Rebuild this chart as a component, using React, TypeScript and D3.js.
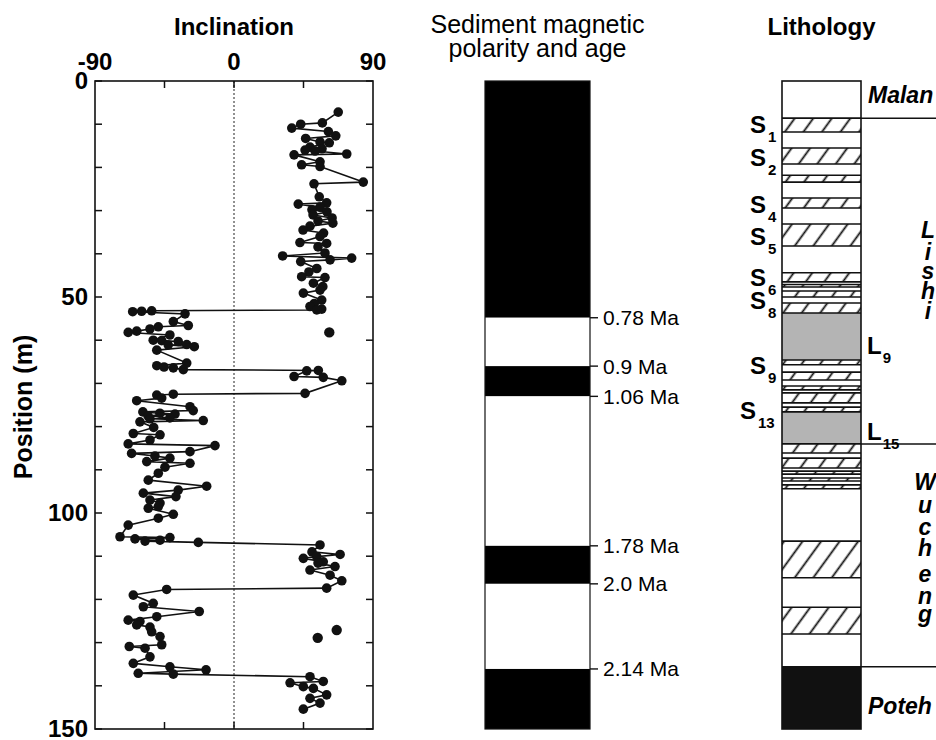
import * as d3 from "d3";
import React from "react";

// inclination record, ordered by depth (m)
const positionM = [
  7.2, 9.7, 10.0, 10.9, 11.7, 12.7, 13.3, 14.1, 14.3, 15.3, 15.7, 16.0, 16.2, 16.9, 17.1, 18.7, 19.4, 19.8,
  23.4, 23.8, 26.8, 28.2, 28.5, 29.2, 29.8, 30.3, 31.0, 31.7, 32.4, 32.9, 33.6, 34.5, 35.2, 36.0, 37.4, 37.6, 38.4,
  39.8, 40.5, 41.0, 41.4, 41.8, 43.4, 44.2, 45.3, 45.5, 46.8, 47.6, 48.4, 49.1, 50.7, 51.5, 52.2, 52.8, 53.0,
  53.2, 53.3, 53.4, 53.9, 55.7, 56.6, 56.9, 57.4, 57.9, 58.2, 58.8, 60.0, 60.1, 60.3, 61.0, 61.1, 61.5,
  62.3, 65.3, 65.9, 66.2, 66.4, 66.8,
  67.0, 67.1, 68.4, 68.6, 69.4, 72.3,
  72.5, 72.7, 73.4, 74.0, 75.4, 76.3, 76.6, 76.9, 77.1, 77.5, 78.0, 78.2, 78.6, 78.9, 80.2, 81.6, 81.9,
  83.1, 84.0, 84.4, 85.8, 86.2, 86.8, 87.3, 88.1, 88.5, 89.4, 90.8, 92.4, 93.8, 94.7, 95.4, 96.2, 97.0,
  97.7, 98.5, 98.9, 100.3, 101.2, 102.8, 105.5, 105.7, 106.0, 106.3, 106.5, 106.8,
  107.4, 109.0, 109.6, 110.1, 110.5, 111.3, 111.6, 112.4, 113.2, 114.4, 115.7, 117.4,
  117.7, 119.0, 120.9, 121.7, 122.8, 124.0, 124.8, 125.1, 125.9, 126.4, 127.5, 128.6, 130.5, 130.9,
  131.3, 133.3, 134.8, 135.6, 136.3, 137.1, 137.3,
  137.9, 139.0, 139.3, 140.2, 140.6, 142.1, 142.9, 144.0, 145.4,
];
const inclinationDeg = [
  67.5, 57.2, 43.2, 37.4, 61.1, 65.9, 46.4, 55.7, 61.7, 49.2, 57.0, 46.0, 52.5, 73.0, 38.9, 55.7, 43.8, 55.7,
  83.7, 51.8, 55.2, 60.0, 41.6, 55.7, 50.5, 60.2, 51.2, 63.5, 54.4, 64.0, 49.2, 44.7, 58.0, 55.7, 42.7, 60.0, 54.4,
  58.9, 31.5, 76.2, 62.2, 43.2, 53.6, 48.5, 43.8, 58.9, 51.4, 57.5, 55.7, 44.9, 56.8, 52.0, 49.2, 56.8, 53.6,
  -53.3, -59.8, -65.6, -31.7, -39.3, -29.6, -49.0, -54.4, -63.0, -68.5, -41.5, -52.3, -46.8, -36.1, -30.6, -42.6, -25.7,
  -50.0, -30.6, -50.0, -45.3, -39.3, -32.8,
  54.6, 47.1, 38.9, 57.8, 69.8, 46.0,
  -39.3, -50.0, -46.8, -63.0, -28.5, -26.4, -59.0, -48.0, -38.2, -55.7, -41.5, -54.4, -19.9, -60.9, -52.0, -65.2, -47.9,
  -54.4, -68.5, -12.3, -28.5, -66.3, -51.2, -41.5, -56.5, -28.5, -44.7, -49.0, -55.5, -17.7, -36.1, -58.7, -37.6, -54.4,
  -47.9, -49.0, -55.5, -39.3, -49.0, -68.5, -73.8, -41.5, -64.1, -47.9, -57.6, -23.1,
  55.7, 50.5, 68.7, 53.6, 44.9, 57.8, 54.4, 65.4, 49.2, 62.2, 69.8, 60.0,
  -43.6, -65.2, -52.3, -58.7, -22.5, -50.0, -68.5, -60.9, -63.0, -54.4, -53.3, -47.9, -46.8, -67.8,
  -57.6, -54.4, -65.2, -41.5, -18.1, -62.0, -39.3,
  49.2, 57.8, 36.3, 44.9, 51.4, 60.0, 49.2, 55.7, 44.9,
];
// samples plotted without a connecting line
const loosePositionM = [58.2, 127.1, 128.9];
const looseInclinationDeg = [61.7, 66.5, 54.2];

const depthTicks = d3.range(0, 151, 10);
const depthLabels = [0, 50, 100, 150];
const incLabels = [-90, 0, 90];
const incTicks = [-45, 0, 45];

// polarity column
const polarityBounds = [0, 54.8, 66.0, 73.0, 107.6, 116.4, 136.1, 150];
const polarityNormal = [true, false, true, false, true, false, true];
const ageLabels = ["0.78 Ma", "0.9 Ma", "1.06 Ma", "1.78 Ma", "2.0 Ma", "2.14 Ma"];

// lithology: l = loess, s = palaeosol, g = marker loess, r = red clay
const lithoBounds = [
  0, 8.6, 11.8, 15.5, 19.2, 21.8, 23.4, 27.1, 29.4, 33.1, 38.2, 44.4, 46.5, 47.1, 47.7, 48.6, 50.0, 51.4,
  53.7, 64.6, 65.7, 67.4, 69.2, 70.6, 71.5, 72.2, 74.5, 75.5, 76.6, 84.0, 86.1, 87.3, 89.6, 90.3, 91.0,
  91.9, 92.6, 93.5, 94.4, 106.5, 115.0, 121.8, 128.0, 135.6, 150,
];
const lithoKinds = "lslslslslslslslslsgslslslslsgslslslslslslslr".split("");
const soilNames = ["1", "2", "4", "5", "6", "8", "9", "13"];
const soilLabelM = [12.0, 19.7, 30.6, 38.0, 47.5, 52.8, 67.8, 78.2];
const loessNames = ["9", "15"];
const loessLabelM = [63.2, 83.1];
const formationBounds = [8.6, 84.0, 135.6];
const lishiLetters = ["L", "i", "s", "h", "i"];
const lishiLetterM = [36.3, 41.4, 45.8, 50.5, 55.1];
const wuchengLetters = ["W", "u", "c", "h", "e", "n", "g"];
const wuchengLetterM = [94.7, 100.0, 105.1, 110.0, 115.9, 121.1, 125.3];

const FONT = "'Liberation Sans', Arial, Helvetica, sans-serif";

const App: React.FC = () => {
  const y = d3.scaleLinear().domain([0, 150]).range([81, 729]);
  const x = d3.scaleLinear().domain([-90, 90]).range([95, 373]);

  const pts: [number, number][] = positionM.map((p, i) => [inclinationDeg[i], p]);
  const line = d3
    .line<[number, number]>()
    .x((d) => x(d[0]))
    .y((d) => y(d[1]));

  const polX0 = 485;
  const polX1 = 590;
  const litX0 = 782;
  const litX1 = 861;

  return (
    <svg
      width={936}
      height={740}
      style={{ position: "absolute", left: 0, top: 0, background: "#fff" }}
      fontFamily={FONT}
    >
      <defs>
        <pattern id="hatch" patternUnits="userSpaceOnUse" width={15} height={15} patternTransform="rotate(36)">
          <line x1={7.5} y1={0} x2={7.5} y2={15} stroke="#111" strokeWidth={1.8} />
        </pattern>
      </defs>

      {/* ---------- Inclination ---------- */}
      <text x={x(0)} y={35} textAnchor="middle" fontSize={24} fontWeight="bold">
        Inclination
      </text>
      {incLabels.map((v) => (
        <text key={v} x={x(v)} y={70} textAnchor="middle" fontSize={24} fontWeight="bold">
          {v}
        </text>
      ))}
      {depthLabels.map((v) => (
        <text key={v} x={88} y={y(v) + 8} textAnchor="end" fontSize={24} fontWeight="bold">
          {v}
        </text>
      ))}
      <text
        transform={`translate(32, ${(y(0) + y(150)) / 2 + 2}) rotate(-90)`}
        textAnchor="middle"
        fontSize={25}
        fontWeight="bold"
      >
        Position (m)
      </text>

      <line x1={x(0)} x2={x(0)} y1={y(0)} y2={y(150)} stroke="#222" strokeWidth={1} strokeDasharray="2,2" />
      {depthTicks.map((t) => (
        <g key={t} stroke="#111" strokeWidth={1.5}>
          <line x1={x(-90)} x2={x(-90) + 7} y1={y(t)} y2={y(t)} />
          <line x1={x(90)} x2={x(90) - 7} y1={y(t)} y2={y(t)} />
        </g>
      ))}
      {incTicks.map((t) => (
        <g key={t} stroke="#111" strokeWidth={1.5}>
          <line x1={x(t)} x2={x(t)} y1={y(0)} y2={y(0) + 7} />
          <line x1={x(t)} x2={x(t)} y1={y(150)} y2={y(150) - 7} />
        </g>
      ))}
      <rect
        x={x(-90)}
        y={y(0)}
        width={x(90) - x(-90)}
        height={y(150) - y(0)}
        fill="none"
        stroke="#111"
        strokeWidth={1.6}
      />

      <path d={line(pts) ?? ""} fill="none" stroke="#111" strokeWidth={1.6} />
      {pts.map((d, i) => (
        <circle key={i} cx={x(d[0])} cy={y(d[1])} r={4.8} fill="#111" />
      ))}
      {loosePositionM.map((p, i) => (
        <circle key={"l" + i} cx={x(looseInclinationDeg[i])} cy={y(p)} r={5.2} fill="#111" />
      ))}

      {/* ---------- Polarity ---------- */}
      <text x={(polX0 + polX1) / 2} y={33} textAnchor="middle" fontSize={25}>
        Sediment magnetic
      </text>
      <text x={(polX0 + polX1) / 2} y={57} textAnchor="middle" fontSize={25}>
        polarity and age
      </text>
      {polarityNormal.map((n, i) => (
        <rect
          key={i}
          x={polX0}
          y={y(polarityBounds[i])}
          width={polX1 - polX0}
          height={y(polarityBounds[i + 1]) - y(polarityBounds[i])}
          fill={n ? "#000" : "#fff"}
        />
      ))}
      <rect
        x={polX0}
        y={y(0)}
        width={polX1 - polX0}
        height={y(150) - y(0)}
        fill="none"
        stroke="#111"
        strokeWidth={1.2}
      />
      {ageLabels.map((lab, i) => {
        const yy = y(polarityBounds[i + 1]);
        return (
          <g key={lab}>
            <line x1={polX1} x2={polX1 + 8} y1={yy} y2={yy} stroke="#111" strokeWidth={1.4} />
            <text x={polX1 + 13} y={yy + 7.5} fontSize={21}>
              {lab}
            </text>
          </g>
        );
      })}

      {/* ---------- Lithology ---------- */}
      <text x={(litX0 + litX1) / 2} y={35} textAnchor="middle" fontSize={24} fontWeight="bold">
        Lithology
      </text>
      {lithoKinds.map((k, i) => {
        const y0 = y(lithoBounds[i]);
        const y1 = y(lithoBounds[i + 1]);
        const fill = k === "s" ? "url(#hatch)" : k === "g" ? "#b4b4b4" : k === "r" ? "#111" : "#fff";
        return <rect key={i} x={litX0} y={y0} width={litX1 - litX0} height={y1 - y0} fill={fill} />;
      })}
      {lithoBounds.slice(1, -1).map((b, i) => (
        <line key={i} x1={litX0} x2={litX1} y1={y(b)} y2={y(b)} stroke="#111" strokeWidth={1.6} />
      ))}
      <rect
        x={litX0}
        y={y(0)}
        width={litX1 - litX0}
        height={y(150) - y(0)}
        fill="none"
        stroke="#111"
        strokeWidth={1.6}
      />
      {formationBounds.map((b) => (
        <line key={b} x1={litX1} x2={936} y1={y(b)} y2={y(b)} stroke="#111" strokeWidth={1.5} />
      ))}

      {soilNames.map((s, i) => {
        const sx = s.length > 1 ? 740 : 750;
        return (
          <text key={s} x={sx} y={y(soilLabelM[i])} fontSize={24} fontWeight="bold">
            S
            <tspan dx={2} dy={9} fontSize={15}>
              {s}
            </tspan>
          </text>
        );
      })}
      {loessNames.map((s, i) => (
        <text key={s} x={867} y={y(loessLabelM[i])} fontSize={24} fontWeight="bold">
          L
          <tspan dx={1} dy={9} fontSize={15}>
            {s}
          </tspan>
        </text>
      ))}

      <text x={868} y={y(5.1)} fontSize={23} fontWeight="bold" fontStyle="italic">
        Malan
      </text>
      {lishiLetters.map((c, i) => (
        <text key={i} x={928} y={y(lishiLetterM[i])} textAnchor="middle" fontSize={23} fontWeight="bold" fontStyle="italic">
          {c}
        </text>
      ))}
      {wuchengLetters.map((c, i) => (
        <text key={i} x={925} y={y(wuchengLetterM[i])} textAnchor="middle" fontSize={23} fontWeight="bold" fontStyle="italic">
          {c}
        </text>
      ))}
      <text x={868} y={y(146.5)} fontSize={23} fontWeight="bold" fontStyle="italic">
        Poteh
      </text>
    </svg>
  );
};

export default App;
